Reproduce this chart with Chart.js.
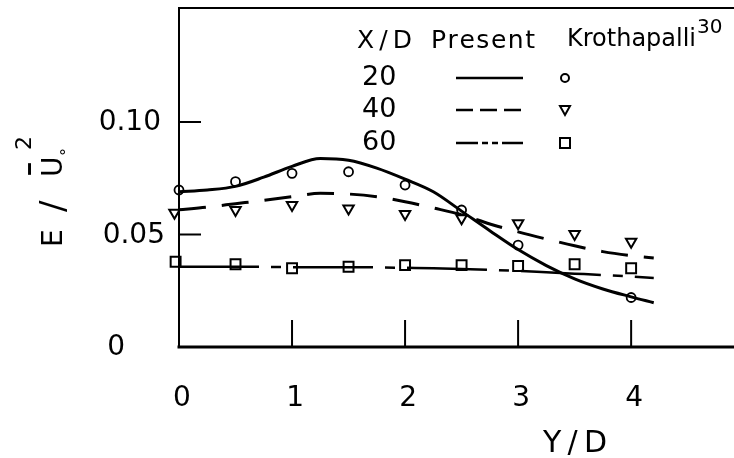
<!DOCTYPE html>
<html>
<head>
<meta charset="utf-8">
<script src="https://cdn.jsdelivr.net/npm/chart.js@4/dist/chart.umd.min.js"></script>
<style>
    html, body { margin: 0; padding: 0; background: #fff; }
    canvas { display: block; }
</style>
</head>
<body>
<canvas id="energyChart" width="734" height="458"></canvas>
<script>
// Axis ticks
const xTicks = [0, 1, 2, 3, 4];
const yTicks = [0, 0.05, 0.10];
const yTickLabels = ['0', '0.05', '0.10'];

// Present calculation, E / U0^2 against Y/D
const curveX = [0, 0.25, 0.5, 0.75, 1, 1.25, 1.5, 1.75, 2, 2.25, 2.5, 2.75, 3, 3.25, 3.5, 3.75, 4, 4.2];
const present20 = [0.0690, 0.0698, 0.0714, 0.0755, 0.0803, 0.0838, 0.0830, 0.0795, 0.0746, 0.0690, 0.0604, 0.0517, 0.0433, 0.0362, 0.0303, 0.0258, 0.0223, 0.0197];
const present40 = [0.0610, 0.0622, 0.0637, 0.0652, 0.0668, 0.0683, 0.0680, 0.0668, 0.0646, 0.0618, 0.0588, 0.0547, 0.0512, 0.0480, 0.0450, 0.0424, 0.0406, 0.0396];
const present60 = [0.0357, 0.0357, 0.0357, 0.0356, 0.0355, 0.0355, 0.0355, 0.0354, 0.0352, 0.0350, 0.0347, 0.0343, 0.0338, 0.0332, 0.0326, 0.0320, 0.0313, 0.0307];

// Krothapalli measurements
const circleX = [0, 0.5, 1, 1.5, 2, 2.5, 3, 4];
const krot20 = [0.0698, 0.0735, 0.0772, 0.0779, 0.0720, 0.0609, 0.0453, 0.0220];
const triangleX = [-0.04, 0.5, 1, 1.5, 2, 2.5, 3, 3.5, 4];
const krot40 = [0.0597, 0.0609, 0.0631, 0.0616, 0.0591, 0.0572, 0.0550, 0.0502, 0.0468];
const squareX = [-0.03, 0.5, 1, 1.5, 2, 2.5, 3, 3.5, 4];
const krot60 = [0.0379, 0.0368, 0.0350, 0.0357, 0.0364, 0.0364, 0.0360, 0.0368, 0.0350];

const FONT = "'DejaVu Sans', sans-serif";
const INK = '#000';

const toPoints = (xs, ys) => xs.map((x, i) => ({ x: x, y: ys[i] }));

function curve(label, ys, dash, width) {
    return {
        label: label,
        data: toPoints(curveX, ys),
        showLine: true,
        borderColor: INK,
        borderWidth: width,
        borderDash: dash,
        pointRadius: 0,
        cubicInterpolationMode: 'monotone',
        clip: false
    };
}

function markers(label, xs, ys, style, radius, rotation, width) {
    return {
        label: label,
        data: toPoints(xs, ys),
        showLine: false,
        pointStyle: style,
        pointRadius: radius,
        rotation: rotation,
        pointBorderWidth: width,
        borderColor: INK,
        backgroundColor: 'rgba(0,0,0,0)',
        clip: false
    };
}

// Spread a string between two x positions (wide technical lettering)
function spread(ctx, text, left, right, y) {
    const chars = Array.from(text);
    const total = chars.reduce((s, c) => s + ctx.measureText(c).width, 0);
    const gap = chars.length > 1 ? Math.max(0, (right - left - total) / (chars.length - 1)) : 0;
    let x = left;
    chars.forEach(c => {
        ctx.fillText(c, x, y);
        x += ctx.measureText(c).width + gap;
    });
}

// Frame (left, top, bottom) with inward tick marks
const framePlugin = {
    id: 'frame',
    beforeDatasetsDraw(chart) {
        const { ctx, chartArea: a, scales: { x, y } } = chart;
        ctx.save();
        ctx.strokeStyle = INK;
        ctx.lineCap = 'square';

        ctx.lineWidth = 2;
        ctx.beginPath();
        ctx.moveTo(chart.width, a.top);
        ctx.lineTo(a.left, a.top);
        ctx.lineTo(a.left, a.bottom);
        ctx.stroke();

        ctx.lineWidth = 3;
        ctx.beginPath();
        ctx.moveTo(a.left, a.bottom);
        ctx.lineTo(chart.width, a.bottom);
        ctx.stroke();

        ctx.lineWidth = 2;
        ctx.beginPath();
        xTicks.slice(1).forEach(v => {
            const px = x.getPixelForValue(v);
            ctx.moveTo(px, a.bottom);
            ctx.lineTo(px, a.bottom - 26);
        });
        yTicks.slice(1).forEach(v => {
            const py = y.getPixelForValue(v);
            ctx.moveTo(a.left, py);
            ctx.lineTo(a.left + 21, py);
        });
        ctx.stroke();
        ctx.restore();
    }
};

// Y tick labels, axis titles and the key table
const textPlugin = {
    id: 'texts',
    afterDraw(chart) {
        const { ctx, scales: { y } } = chart;
        ctx.save();
        ctx.fillStyle = INK;
        ctx.textBaseline = 'middle';

        // y tick labels
        ctx.font = '28px ' + FONT;
        ctx.textAlign = 'right';
        const rightEdge = [125, 165, 161];
        yTickLabels.forEach((t, i) => {
            ctx.fillText(t, rightEdge[i], y.getPixelForValue(yTicks[i]) + 1);
        });

        // x axis title
        ctx.textAlign = 'left';
        ctx.font = '30px ' + FONT;
        spread(ctx, 'Y/D', 543, 607, 444);

        // y axis title, rotated
        ctx.save();
        ctx.translate(62, 247);
        ctx.rotate(-Math.PI / 2);
        ctx.textBaseline = 'alphabetic';
        ctx.font = '28px ' + FONT;
        ctx.fillText('E', 0, 0);
        ctx.fillText('U', 70, 0);
        ctx.font = '34px ' + FONT;
        ctx.fillText('/', 35, 2);
        ctx.font = '40px ' + FONT;
        ctx.fillText('\u00AF', 68, -3);
        ctx.font = '16px ' + FONT;
        ctx.fillText('°', 91, 10);
        ctx.font = '22px ' + FONT;
        ctx.fillText('2', 97, -31);
        ctx.restore();

        // key table
        ctx.font = '25px ' + FONT;
        spread(ctx, 'X/D', 357, 412, 41);
        spread(ctx, 'Present', 431, 535, 41);
        ctx.font = '24px ' + FONT;
        ctx.fillText('Krothapalli', 567, 40);
        ctx.font = '20px ' + FONT;
        ctx.fillText('30', 697, 28);

        const rows = [
            { label: '20', y: 78, dash: [], symbol: 'circle' },
            { label: '40', y: 110, dash: [17, 7], symbol: 'triangle' },
            { label: '60', y: 143, dash: [22, 4, 6, 4, 6, 4, 28], symbol: 'rect' }
        ];
        rows.forEach(r => {
            ctx.font = '27px ' + FONT;
            ctx.fillText(r.label, 362, r.y);
            ctx.strokeStyle = INK;
            ctx.lineWidth = 2.5;
            ctx.setLineDash(r.dash);
            ctx.beginPath();
            ctx.moveTo(456, r.y);
            ctx.lineTo(523, r.y);
            ctx.stroke();
            ctx.setLineDash([]);
            ctx.lineWidth = 2;
            ctx.beginPath();
            if (r.symbol === 'circle') {
                ctx.arc(565, r.y, 4, 0, Math.PI * 2);
            } else if (r.symbol === 'triangle') {
                ctx.moveTo(560, r.y - 4);
                ctx.lineTo(570, r.y - 4);
                ctx.lineTo(565, r.y + 5);
                ctx.closePath();
            } else {
                ctx.rect(560, r.y - 5, 10, 10);
            }
            ctx.stroke();
        });
        ctx.restore();
    }
};

const energyChart = new Chart(document.getElementById('energyChart'), {
    type: 'scatter',
    data: {
        datasets: [
            curve('Present 20', present20, [], 3),
            curve('Present 40', present40, [27, 16], 3),
            curve('Present 60', present60, [80, 12, 10, 12], 2.5),
            markers('Krothapalli 20', circleX, krot20, 'circle', 4.5, 0, 1.8),
            markers('Krothapalli 40', triangleX, krot40, 'triangle', 6, 180, 2),
            markers('Krothapalli 60', squareX, krot60, 'rect', 7, 0, 2)
        ]
    },
    options: {
        responsive: false,
        animation: false,
        events: [],
        layout: {
            autoPadding: false,
            padding: { top: 8, right: 0, bottom: 0, left: 0 }
        },
        plugins: {
            legend: { display: false },
            tooltip: { enabled: false }
        },
        scales: {
            x: {
                type: 'linear',
                min: 0,
                max: 4.91,
                afterFit: s => {
                    s.height = 111;
                    s.paddingLeft = 0;
                    s.paddingRight = 0;
                },
                afterBuildTicks: s => { s.ticks = xTicks.map(v => ({ value: v })); },
                grid: { display: false },
                border: { display: false },
                ticks: {
                    padding: 27,
                    labelOffset: 3,
                    color: INK,
                    font: { family: FONT, size: 28 },
                    maxRotation: 0,
                    callback: v => String(v)
                }
            },
            y: {
                type: 'linear',
                min: 0,
                max: 0.1507,
                afterFit: s => { s.width = 179; },
                afterBuildTicks: s => { s.ticks = yTicks.map(v => ({ value: v })); },
                grid: { display: false },
                border: { display: false },
                ticks: { display: false }
            }
        }
    },
    plugins: [framePlugin, textPlugin]
});
</script>
</body>
</html>
